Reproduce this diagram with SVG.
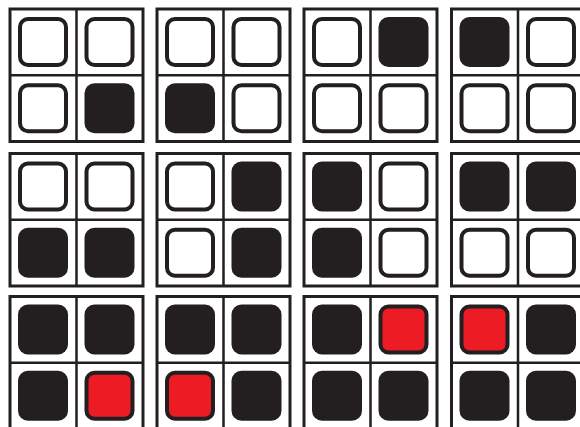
<svg xmlns="http://www.w3.org/2000/svg" width="580" height="427" viewBox="0 0 580 427">
<defs>
<style>
.frame{fill:#fff;stroke:#231f20;stroke-width:3}
.div{stroke:#231f20;stroke-width:2.5;fill:none}
.w{fill:#fff;stroke:#231f20;stroke-width:4}
.b{fill:#231f20}
.r{fill:#ed1c24;stroke:#231f20;stroke-width:4}
</style>
<g id="tile">
<rect class="frame" x="0" y="0" width="133" height="132.5"/>
<path class="div" d="M66.5 0V132.5M0 66.25H133"/>
</g>
<rect id="W" class="w" x="10" y="10" width="46" height="46" rx="8"/>
<rect id="B" class="b" x="8" y="8" width="50" height="50" rx="10"/>
<rect id="R" class="r" x="10" y="10" width="46" height="46" rx="8"/>
</defs>
<rect width="580" height="427" fill="#fff"/>
<g id="t1" transform="translate(10,9)"><use href="#tile"/><use href="#W"/><use href="#W" x="66.5"/><use href="#W" y="66.25"/><use href="#B" x="66.5" y="66.25"/></g>
<g id="t2" transform="translate(157,9)"><use href="#tile"/><use href="#W"/><use href="#W" x="66.5"/><use href="#B" y="66.25"/><use href="#W" x="66.5" y="66.25"/></g>
<g id="t3" transform="translate(304,9)"><use href="#tile"/><use href="#W"/><use href="#B" x="66.5"/><use href="#W" y="66.25"/><use href="#W" x="66.5" y="66.25"/></g>
<g id="t4" transform="translate(451.5,9)"><use href="#tile"/><use href="#B"/><use href="#W" x="66.5"/><use href="#W" y="66.25"/><use href="#W" x="66.5" y="66.25"/></g>
<g id="t5" transform="translate(10,153.5)"><use href="#tile"/><use href="#W"/><use href="#W" x="66.5"/><use href="#B" y="66.25"/><use href="#B" x="66.5" y="66.25"/></g>
<g id="t6" transform="translate(157,153.5)"><use href="#tile"/><use href="#W"/><use href="#B" x="66.5"/><use href="#W" y="66.25"/><use href="#B" x="66.5" y="66.25"/></g>
<g id="t7" transform="translate(304,153.5)"><use href="#tile"/><use href="#B"/><use href="#W" x="66.5"/><use href="#B" y="66.25"/><use href="#W" x="66.5" y="66.25"/></g>
<g id="t8" transform="translate(451.5,153.5)"><use href="#tile"/><use href="#B"/><use href="#B" x="66.5"/><use href="#W" y="66.25"/><use href="#W" x="66.5" y="66.25"/></g>
<g id="t9" transform="translate(10,296.5)"><use href="#tile"/><use href="#B"/><use href="#B" x="66.5"/><use href="#B" y="66.25"/><use href="#R" x="66.5" y="66.25"/></g>
<g id="t10" transform="translate(157,296.5)"><use href="#tile"/><use href="#B"/><use href="#B" x="66.5"/><use href="#R" y="66.25"/><use href="#B" x="66.5" y="66.25"/></g>
<g id="t11" transform="translate(304,296.5)"><use href="#tile"/><use href="#B"/><use href="#R" x="66.5"/><use href="#B" y="66.25"/><use href="#B" x="66.5" y="66.25"/></g>
<g id="t12" transform="translate(451.5,296.5)"><use href="#tile"/><use href="#R"/><use href="#B" x="66.5"/><use href="#B" y="66.25"/><use href="#B" x="66.5" y="66.25"/></g>
<g id="connectors"/>
</svg>
